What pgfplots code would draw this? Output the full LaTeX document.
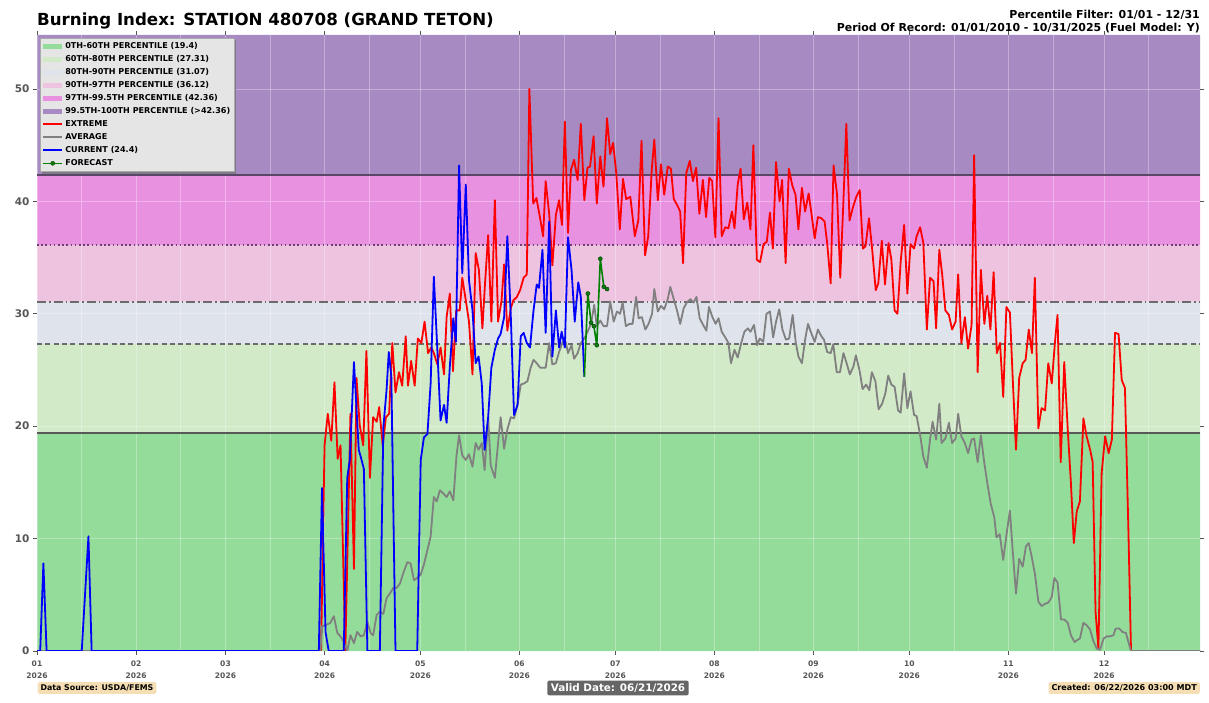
\documentclass[border=0pt]{standalone}
\usepackage{pgfplots}
\pgfplotsset{compat=1.18}
\usepackage{fontspec}
\setmainfont{DejaVu Sans}

\definecolor{b60}{HTML}{94DC9A}
\definecolor{b80}{HTML}{D2EAC8}
\definecolor{b90}{HTML}{DFE3EC}
\definecolor{b97}{HTML}{EDC3E0}
\definecolor{b995}{HTML}{E991E1}
\definecolor{b100}{HTML}{A88AC3}
\definecolor{tickgray}{HTML}{555555}
\definecolor{thr1}{HTML}{595959}
\definecolor{thr2}{HTML}{6B6B6B}
\definecolor{thr4}{HTML}{6E3F70}
\definecolor{thr5}{HTML}{5A4666}
\definecolor{avggray}{HTML}{808080}
\definecolor{fcgreen}{HTML}{008000}
\definecolor{fcmark}{HTML}{117A11}
\definecolor{legbg}{HTML}{E5E5E5}
\definecolor{legedge}{HTML}{AAAAAA}
\definecolor{wheatc}{HTML}{F5DEB3}
\definecolor{validbg}{HTML}{666666}

\pgfplotsset{
  bandlegend/.style={legend image code/.code={\fill[fill=#1, draw=none] (0bp,-2.8bp) rectangle (19bp,2.8bp);}},
  linelegend/.style={legend image code/.code={\draw[##1] (0bp,0bp) -- (19bp,0bp);}},
  fclegend/.style={legend image code/.code={\draw[fcgreen, line width=1.6bp] (0bp,0bp) -- (19bp,0bp); \filldraw[fill=fcmark, draw=black!70!green, line width=0.5bp] (9.5bp,0bp) circle (2bp);}},
}

\begin{document}
\begin{tikzpicture}
\begin{axis}[
  at={(0,0)}, anchor=south west,
  width=1163bp, height=616bp, scale only axis,
  xmin=0, xmax=364, ymin=0, ymax=54.8,
  set layers,
  axis line style={draw=none},
  xtick={0,31,59,90,120,151,181,212,243,273,304,334},
  xticklabels={{01\\2026},{02\\2026},{03\\2026},{04\\2026},{05\\2026},{06\\2026},{07\\2026},{08\\2026},{09\\2026},{10\\2026},{11\\2026},{12\\2026}},
  minor xtick={14,45,73,104,134,165,195,226,257,287,318,348},
  ytick={0,10,20,30,40,50},
  /pgf/number format/assume math mode=true,
  xticklabel style={align=center, font=\bfseries\fontsize{7.6}{12}\selectfont, text=tickgray, yshift=-2.5bp},
  yticklabel style={font=\bfseries\fontsize{10.5}{12}\selectfont, text=tickgray},
  xmajorgrids, xminorgrids, ymajorgrids,
  grid style={white, opacity=0.3, line width=0.9bp},
  minor grid style={white, opacity=0.3, line width=0.9bp},
  tick align=outside,
  major tick length=4bp, minor tick length=0bp,
  tick style={tickgray, line width=0.8bp},
  legend style={at={(0.0026,0.995)}, anchor=north west, fill=legbg, draw=legedge, line width=0.6bp,
    font=\bfseries\fontsize{8.1}{9}\selectfont, inner xsep=2bp, inner ysep=1.5bp, row sep=0.1bp,
    nodes={inner xsep=2.2bp, inner ysep=2.3bp, text height=6.4bp, text depth=1.9bp}},
  legend cell align=left,
]
% percentile bands
\addplot[on layer=axis background, fill=b60, draw=none, bandlegend=b60] coordinates {(0,0) (364,0) (364,19.4) (0,19.4) (0,0)};
\addlegendentry{0TH-60TH PERCENTILE (19.4)}
\addplot[on layer=axis background, fill=b80, draw=none, bandlegend=b80] coordinates {(0,19.4) (364,19.4) (364,27.31) (0,27.31) (0,19.4)};
\addlegendentry{60TH-80TH PERCENTILE (27.31)}
\addplot[on layer=axis background, fill=b90, draw=none, bandlegend=b90] coordinates {(0,27.31) (364,27.31) (364,31.07) (0,31.07) (0,27.31)};
\addlegendentry{80TH-90TH PERCENTILE (31.07)}
\addplot[on layer=axis background, fill=b97, draw=none, bandlegend=b97] coordinates {(0,31.07) (364,31.07) (364,36.12) (0,36.12) (0,31.07)};
\addlegendentry{90TH-97TH PERCENTILE (36.12)}
\addplot[on layer=axis background, fill=b995, draw=none, bandlegend=b995] coordinates {(0,36.12) (364,36.12) (364,42.36) (0,42.36) (0,36.12)};
\addlegendentry{97TH-99.5TH PERCENTILE (42.36)}
\addplot[on layer=axis background, fill=b100, draw=none, bandlegend=b100] coordinates {(0,42.36) (364,42.36) (364,54.8) (0,54.8) (0,42.36)};
\addlegendentry{99.5TH-100TH PERCENTILE (>42.36)}

% threshold lines
\addplot[forget plot, thr1, line width=1.6bp] coordinates {(0,19.4) (364,19.4)};
\addplot[forget plot, thr2, line width=1.6bp, dash pattern=on 5bp off 3.3bp] coordinates {(0,27.31) (364,27.31)};
\addplot[forget plot, thr2, line width=1.6bp, dash pattern=on 9bp off 3bp on 1.6bp off 3bp] coordinates {(0,31.07) (364,31.07)};
\addplot[forget plot, thr4, line width=1.6bp, dash pattern=on 1.6bp off 2.6bp] coordinates {(0,36.12) (364,36.12)};
\addplot[forget plot, thr5, line width=1.6bp] coordinates {(0,42.36) (364,42.36)};

% EXTREME
\addplot[red, line width=1.8bp, line join=round, linelegend] coordinates {
(0,0)(88.9,0)(90,18.3)(91,21.1)(92.1,18.7)(93.1,23.9)(94.1,17.1)(95,18.3)(96.5,0)(98.1,21.1)(99.2,7.3)(100,24.3)
(101,20.1)(102.1,18.3)(103.1,26.7)(104.2,15.4)(105.2,20.8)(106.3,20.4)(107.1,21.7)(108.2,18.3)(109.2,20.8)(110.2,21.1)
(111.2,27.4)(112.2,23)(113.3,24.8)(114.3,23.6)(115.4,28)(116.1,23.6)(117.1,25.8)(118.2,23.6)(119.2,27.8)(120.3,27.4)
(121.3,29.3)(122.4,26.5)(123.4,27)(124.2,26.5)(125.3,25.5)(126.3,27)(127.4,24.6)(128.2,29.7)(129.2,31.8)(130.2,24.9)
(131.2,30.3)(132.3,30.3)(133.1,33.2)(134.2,31.2)(135.2,29.3)(136.3,24.6)(137.3,35.4)(138.3,33.9)(139.4,28.7)(140.2,32.6)
(141.2,37)(142.2,29.3)(143.3,40.1)(144.3,29.3)(145.4,31.2)(146.2,34.4)(147.2,28.5)(148.3,30.5)(149.1,31.2)(150.2,31.5)
(151.2,32.1)(152.3,33.2)(153.3,33.5)(154.1,50)(155.3,39.8)(156.3,40.3)(157.4,38.6)(158.4,36.9)(159.2,41.8)(160.3,38.9)
(161.3,34.3)(162.4,38.8)(163.4,40.1)(164.3,37.9)(165.2,47.1)(166.2,37.2)(167.1,42.8)(168.1,43.7)(169.2,41.9)(170.2,46.9)
(171.3,40.1)(172.3,43)(173.1,43.1)(174.2,45.8)(175.2,39.8)(176.3,44)(177.3,41.3)(178.4,47.4)(179.4,44.2)(180.3,45.2)
(181.3,42.5)(182.4,37.5)(183.4,42)(184.4,40.2)(185.7,40.4)(187.1,36.9)(188.2,38.3)(189.2,45.4)(190.3,35.2)(191.3,36.9)
(192.4,42.8)(193.2,45.5)(194.3,40.1)(195.3,43.3)(196.3,40.6)(197.4,43.1)(198.4,42.9)(199.3,40.2)(200.3,39.7)(201.3,39.1)
(202.2,34.5)(203.2,42.5)(204.3,43.6)(205.3,41.8)(206.3,43)(207.3,38.9)(208.4,41.9)(209.4,38.6)(210.4,42.1)(211.3,41.8)
(212.3,36.8)(213.3,47.4)(214.3,36.9)(215.4,37.7)(216.4,37.6)(217.5,39.1)(218.3,37.6)(219.3,41.5)(220.2,42.9)(221.2,38.4)
(222.3,39.9)(223.3,37.5)(224.2,45)(225.3,34.8)(226.3,34.6)(227.4,36.2)(228.4,36.4)(229.4,39)(230.3,35.8)(231.3,43.5)
(232.4,40)(233.2,41.9)(234.3,34.5)(235.3,42.9)(236.4,41.4)(237.4,40.6)(238.3,37.5)(239.4,41.2)(240.4,39.1)(241.5,40.7)
(242.3,39.1)(243.4,36.7)(244.4,38.6)(245.5,38.5)(246.5,38.2)(247.3,36.3)(248.4,32.7)(249.3,43.2)(250.4,40.6)(251.4,33.2)
(252.4,40.1)(253.3,46.9)(254.3,38.3)(255.4,39.5)(256.4,40.4)(257.5,41)(258.5,35.8)(259.3,36)(260.4,38.5)(261.4,35.7)
(262.5,32.1)(263.3,32.7)(264.4,36.5)(265.4,32.6)(266.5,36.3)(267.4,34.8)(268.4,30.3)(269.3,30)(270.3,34.6)(271.4,37.9)
(272.4,31.8)(273.4,36.2)(274.5,35.8)(275.3,36.9)(276.4,37.7)(277.4,36.3)(278.5,28.6)(279.5,33.2)(280.6,32.9)(281.4,28.7)
(282.4,35.7)(283.3,33.5)(284.3,30.3)(285.4,29.9)(286.4,28.6)(287.5,29.3)(288.3,33.5)(289.3,27.4)(290.4,29.7)(291.4,26.9)
(292.5,29)(293.3,44.1)(294.4,24.8)(295.4,33.9)(296.5,29.1)(297.4,31.6)(298.4,28.6)(299.4,33.7)(300.4,26.5)(301.4,27.4)
(302.4,22.6)(303.4,30.6)(304.5,30.1)(305.4,24.1)(306.4,17.9)(307.4,24.3)(308.5,25.6)(309.4,25.9)(310.4,28.6)(311.4,26.5)
(312.3,33.2)(313.4,19.8)(314.4,21.6)(315.5,21.4)(316.5,25.6)(317.6,23.8)(318.6,27.5)(319.4,29.9)(320.4,16.8)(321.5,25.7)
(322.6,19.7)(323.6,14.9)(324.5,9.6)(325.4,12.4)(326.4,13.3)(327.5,20.7)(328.5,19.1)(329.6,17.9)(330.4,16.8)(331.3,3.5)
(332.2,0.2)(333.2,15.8)(334.3,19.1)(335.4,17.6)(336.4,18.8)(337.4,28.3)(338.5,28.2)(339.5,24.1)(340.5,23.4)(341.6,10.5)
(342.4,0)(364,0)};
\addlegendentry{EXTREME}

% AVERAGE
\addplot[avggray, line width=1.8bp, line join=round, linelegend] coordinates {
(0,0)(88.7,0)(89.2,2.2)(90.3,2.3)(91.8,2.5)(92.9,3.1)(94,1.6)(95,1.3)(96,0.8)(97.1,0)(98.1,1.4)(99.2,0.7)(100.2,1.7)
(101.3,1.3)(102.3,1.4)(103.4,2.6)(104.4,1.6)(105.2,1.4)(106.3,3.2)(107.3,3.5)(108.4,3.3)(109.4,4.7)(110.4,5.1)
(111.5,5.6)(112.5,5.6)(113.6,6)(114.6,6.9)(115.9,7.9)(116.9,7.8)(118,6.3)(119,6.5)(120.1,6.8)(121.1,7.7)
(122.2,9)(123.2,10.2)(124.2,13.7)(125.1,13.3)(126.1,14.3)(127.2,14)(128.2,13.7)(129.2,14.2)(130.3,13.4)(131.3,17.4)
(132.1,19.2)(133.1,17.4)(134.2,17)(135.2,17.5)(136.3,16.4)(137.3,18.5)(138.2,17.9)(139.2,18.5)(140.1,16.1)(141.2,20.8)
(142,16.5)(143.3,15.4)(144.3,18.5)(145.1,20.8)(146.2,18)(147.2,19.7)(148.3,20.8)(149.3,20.7)(150.4,21.9)(151.4,23.7)
(152.4,23.8)(153.5,24)(154.5,25.2)(155.4,25.9)(156.4,25.6)(157.5,25.2)(158.5,25.2)(159.2,25.2)(160.3,27.4)(161.3,25.5)
(162.4,25.6)(163.4,26.6)(164.5,27.5)(165.5,27.5)(166.2,26.5)(167.3,27.2)(168.1,26)(169.2,26.5)(170.2,27.4)(171.3,27.8)
(172.3,28.4)(173.4,29.1)(174.4,30.8)(175.2,28.9)(176.3,29.4)(177.3,28.9)(178.4,28.9)(179.4,31.1)(180.5,29.3)(181.5,30.2)
(182.5,30)(183.3,31)(184.3,28.9)(185.4,29.1)(186.4,29.1)(187.5,31.5)(188.3,29.6)(189.3,29.7)(190.4,28.6)(191.4,29.1)
(192.5,30)(193.2,32.2)(194.3,30.2)(195.3,30.7)(196.3,30.4)(197.4,31.3)(198.2,32.4)(199.3,31.3)(200.3,30.3)(201.3,29.1)
(202.4,30.5)(203.4,31)(204.5,31.3)(205.5,31)(206.4,31.5)(207.4,29.6)(208.5,29)(209.5,28.5)(210.3,30.6)(211.4,29.7)
(212.4,29.1)(213.3,29.6)(214.3,28.4)(215.4,27.9)(216.4,27.4)(217.2,25.6)(218.3,26.8)(219.3,26.1)(220.4,27.4)(221.4,28.4)
(222.5,28.7)(223.3,28.4)(224.4,29)(225.4,27.2)(226.2,27.8)(227.3,27.5)(228.3,30)(229.4,30.2)(230.4,27.9)(231.3,29.3)
(232.3,30.4)(233.3,28.6)(234.4,27.7)(235.4,27.8)(236.5,29.9)(237.5,27.4)(238.3,26.2)(239.4,25.6)(240.4,27.7)(241.3,29.1)
(242.3,28.3)(243.4,27.5)(244.4,28.6)(245.5,28)(246.3,27.7)(247.3,26.6)(248.4,26.5)(249.2,27.3)(250.3,24.8)(251.3,24.8)
(252.4,26.5)(253.4,25.6)(254.4,24.6)(255.5,25.3)(256.3,26.3)(257.4,25)(258.4,23.3)(259.5,23.7)(260.5,23.2)(261.3,24.8)
(262.4,24)(263.4,21.5)(264.5,22)(265.5,22.9)(266.4,24.5)(267.4,23.7)(268.4,23.5)(269.5,21.4)(270.3,21.2)(271.4,24.7)
(272.4,21.6)(273.4,23.1)(274.5,21)(275.3,20.9)(276.4,19.2)(277.4,17.3)(278.5,16.3)(279.5,18.8)(280.3,20.4)(281.4,18.8)
(282.4,22)(283.1,18.5)(284.3,18.9)(285.4,20.3)(286.4,18.5)(287.5,18.9)(288.3,21.1)(289.3,19.1)(290.4,18.5)(291.4,17.6)
(292.5,18.8)(293.3,18.9)(294.4,16.8)(295.4,19.2)(296.5,16.7)(297.5,14.8)(298.5,13.1)(299.6,11.9)(300.3,10.1)(301.3,10.4)
(302.4,8.1)(303.4,10.3)(304.5,12.5)(305.3,9.2)(306.4,5.1)(307.4,8.2)(308.5,7.5)(309.5,9.3)(310.4,9.6)(311.3,8.4)
(312.3,6.9)(313.4,4.4)(314.4,4)(315.5,4.2)(316.5,4.3)(317.6,4.8)(318.4,6.5)(319.4,6.1)(320.5,2.8)(321.5,2.8)
(322.6,2.5)(323.6,1.4)(324.7,0.8)(325.7,1)(326.4,1.1)(327.5,2.5)(328.5,2.3)(329.6,1.9)(330.6,0.9)(331.7,0.2)
(332.7,0.1)(333.8,1.1)(334.8,1.3)(335.8,1.3)(336.9,1.4)(337.6,2)(338.7,2)(339.7,1.7)(340.8,1.6)(341.6,0.8)
(342.4,0)(364,0)};
\addlegendentry{AVERAGE}

% CURRENT
\addplot[blue, line width=1.8bp, line join=round, linelegend] coordinates {
(0,0)(1,0)(2,7.8)(3,0)(14,0)(16.1,10.2)(17.1,0)(88.2,0)(89.2,14.5)(90.3,1.7)(91.3,0)(96,0)(97.1,15.4)(97.9,17)
(99.2,25.7)(100.7,17.9)(101.3,17.3)(102.3,16.2)(103.4,0)(107.3,0)(108.4,19.9)(109.4,23.2)(110.1,26.6)(110.9,24.4)
(112.2,0)(119,0)(120.1,17)(121.1,19)(122.2,19.3)(123.2,23.8)(124.2,33.3)(125.3,26.8)(126.3,20.5)(127.4,21.9)
(128.2,20.3)(129.2,25.3)(130.3,29.6)(131.1,27.5)(132.1,43.2)(133.1,33.6)(134.2,41.5)(135.2,33)(136.3,30.3)(137.3,25.6)
(138.2,26.2)(139.2,23.8)(140.1,17.9)(141.2,20.8)(142.2,25.2)(143.3,26.8)(144.3,27.8)(145.1,28.2)(146.2,29.7)(147.2,36.9)
(148.3,29.7)(149.3,21)(150.4,21.9)(151.4,28)(152.3,28.3)(153.3,27.4)(154.3,27)(155.4,30.3)(156.4,32.6)(157.1,32.3)
(158.2,35.7)(159.2,28.3)(160.3,38.2)(161.3,26.2)(162.4,30.3)(163.4,27)(164.2,28.4)(165.2,27)(166.2,36.8)(167.3,33.9)
(168.3,29.3)(169.4,32.8)(170.2,31.5)(171.3,24.4)};
\addlegendentry{CURRENT (24.4)}

% FORECAST
\addplot[fcgreen, line width=1.6bp, line join=round, mark=*, mark size=2bp, mark indices={2,3,4,5,6,7,8},
  mark options={fill=fcmark, draw=black!70!green, line width=0.5bp}, fclegend] coordinates {
(171.3,24.4)(172.4,31.8)(173.4,29.2)(174.3,28.9)(175.2,27.2)(176.3,34.9)(177.4,32.4)(178.4,32.2)};
\addlegendentry{FORECAST}

% legend shadow (drawn under the legend box, above the data lines)
\fill[black!55, opacity=0.7] ([shift={(5bp,-5bp)}]rel axis cs:0,1) rectangle ([shift={(199bp,-139bp)}]rel axis cs:0,1);
\end{axis}

% titles and annotations
\node[anchor=base west, inner sep=0pt, font=\bfseries\fontsize{16.7}{18}\selectfont] at (0bp,625bp) {Burning Index: STATION 480708 (GRAND TETON)};
\node[anchor=base east, inner sep=0pt, font=\bfseries\fontsize{11}{12}\selectfont] at (1163bp,632bp) {Percentile Filter: 01/01 - 12/31};
\node[anchor=base east, inner sep=0pt, font=\bfseries\fontsize{11}{12}\selectfont] at (1163bp,619bp) {Period Of Record: 01/01/2010 - 10/31/2025 (Fuel Model: Y)};
\node[fill=wheatc, rounded corners=2bp, inner xsep=3bp, inner ysep=2.5bp, font=\bfseries\fontsize{7.9}{9}\selectfont] at (60bp,-37bp) {Data Source: USDA/FEMS};
\node[fill=validbg, text=white, rounded corners=2bp, inner xsep=3.5bp, inner ysep=3bp, font=\bfseries\fontsize{10.4}{11}\selectfont] at (581bp,-37bp) {Valid Date: 06/21/2026};
\node[anchor=east, fill=wheatc, rounded corners=2bp, inner xsep=3bp, inner ysep=2.5bp, font=\bfseries\fontsize{8.1}{9}\selectfont] at (1163bp,-37bp) {Created: 06/22/2026 03:00 MDT};

\pgfresetboundingbox
\path[use as bounding box] (-37bp,-52bp) rectangle (1172bp,651bp);
\end{tikzpicture}
\end{document}
